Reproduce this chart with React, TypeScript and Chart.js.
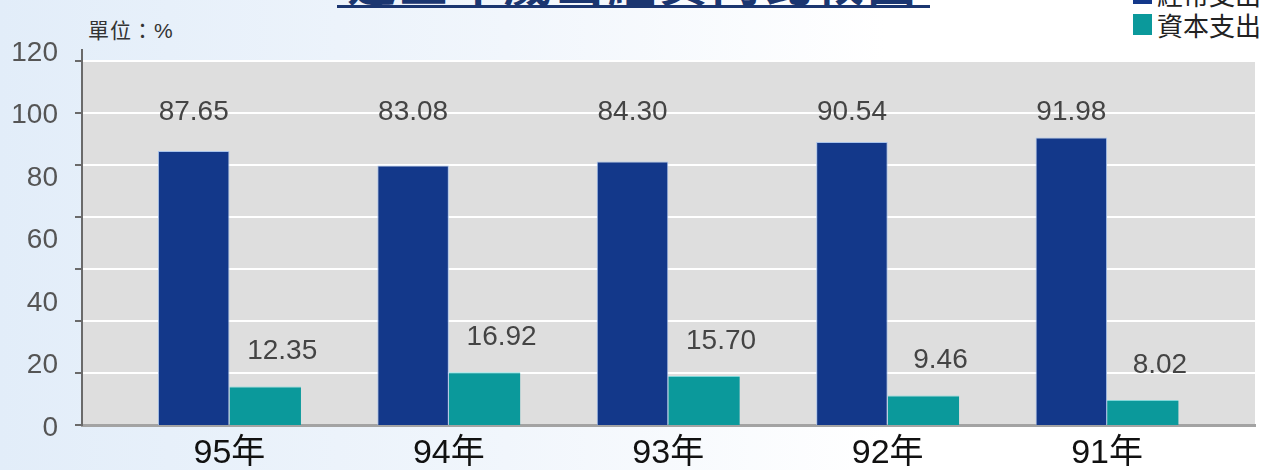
import React, { useEffect, useRef } from "react";
import { Chart, registerables } from "chart.js";

Chart.register(...registerables);

const categories = ["95年", "94年", "93年", "92年", "91年"];
const recurrentValues = [87.65, 83.08, 84.3, 90.54, 91.98];
const capitalValues = [12.35, 16.92, 15.7, 9.46, 8.02];
const seriesNames = ["經常支出", "資本支出"];
const seriesColors = ["#13388a", "#0b999b"];
const yTickValues = [0, 20, 40, 60, 80, 100, 120];
const gridBands = 7;
const titleText = "近五年歲出經資門比較圖";
const unitText = "單位：%";

const FONT = '"Liberation Sans", Arial, "Noto Sans CJK TC", sans-serif';

const plotBackground = {
  id: "plotBackground",
  beforeDraw(chart: any) {
    const { ctx, chartArea } = chart;
    const g = chart.scales.yGrid;
    const top = g.getPixelForValue(gridBands);
    ctx.save();
    ctx.fillStyle = "#dedede";
    ctx.fillRect(chartArea.left, top, chartArea.right - chartArea.left, chartArea.bottom - top);
    ctx.restore();
  },
};

const valueLabels = {
  id: "valueLabels",
  afterDatasetsDraw(chart: any) {
    const { ctx } = chart;
    const y = chart.scales.y;
    ctx.save();
    ctx.font = `28px ${FONT}`;
    ctx.fillStyle = "#444";
    ctx.textAlign = "center";
    ctx.textBaseline = "middle";
    const m0 = chart.getDatasetMeta(0);
    const m1 = chart.getDatasetMeta(1);
    m0.data.forEach((bar: any, i: number) => {
      ctx.fillText(recurrentValues[i].toFixed(2), bar.x, y.getPixelForValue(100));
    });
    m1.data.forEach((bar: any, i: number) => {
      ctx.fillText(capitalValues[i].toFixed(2), bar.x + 17, bar.y - 35);
    });
    ctx.restore();
  },
};

export default function App() {
  const canvasRef = useRef<HTMLCanvasElement | null>(null);

  useEffect(() => {
    if (!canvasRef.current) return;
    const chart = new Chart(canvasRef.current, {
      type: "bar",
      data: {
        datasets: [
          {
            label: seriesNames[0],
            data: recurrentValues.map((v, i) => ({ x: i, y: v })),
            backgroundColor: seriesColors[0],
            borderColor: "#a9c3ea",
            borderWidth: 1,
            borderSkipped: "bottom",
          },
          {
            label: seriesNames[1],
            data: capitalValues.map((v, i) => ({ x: i, y: v })),
            backgroundColor: seriesColors[1],
            borderColor: "#7fd6d8",
            borderWidth: { top: 1, left: 0, right: 0, bottom: 0 },
            borderSkipped: "bottom",
          },
        ],
      } as any,
      options: {
        animation: false,
        responsive: true,
        maintainAspectRatio: false,
        events: [],
        categoryPercentage: 0.652,
        barPercentage: 1,
        layout: { padding: { top: 50, right: 9, bottom: 0, left: 0 } },
        plugins: { legend: { display: false }, tooltip: { enabled: false } },
        scales: {
          x: {
            type: "linear",
            offset: false,
            min: -0.672,
            max: 4.674,
            afterBuildTicks: (s: any) => {
              s.ticks = categories.map((_, i) => ({ value: i }));
            },
            ticks: {
              callback: (v: any) => categories[v] ?? "",
              font: { size: 34, family: FONT },
              color: "#111",
              padding: 8,
              autoSkip: false,
              maxRotation: 0,
            },
            grid: { display: false, drawTicks: false, offset: false },
            border: { display: true, color: "#a3a3a3", width: 3 },
            afterFit: (s: any) => {
              s.height = 45;
            },
          },
          y: {
            type: "linear",
            position: "left",
            weight: 1,
            min: 0,
            max: 120,
            afterBuildTicks: (s: any) => {
              s.ticks = yTickValues.map((v) => ({ value: v }));
            },
            ticks: { font: { size: 28, family: FONT }, color: "#555", padding: 16, labelOffset: 3 },
            grid: { display: false },
            border: { display: false },
            afterFit: (s: any) => {
              s.width = 82;
            },
          },
          yGrid: {
            type: "linear",
            position: "left",
            weight: 0,
            min: 0,
            max: 7.21,
            afterBuildTicks: (s: any) => {
              s.ticks = Array.from({ length: gridBands + 1 }, (_, i) => ({ value: i }));
            },
            ticks: { display: false },
            grid: { color: "#ffffff", lineWidth: 2, tickColor: "#6a6a6a", tickLength: 7, drawTicks: true },
            border: { display: true, color: "#6a6a6a", width: 2 },
            afterFit: (s: any) => {
              s.width = 0;
            },
          },
        } as any,
      },
      plugins: [plotBackground, valueLabels],
    });
    return () => chart.destroy();
  }, []);

  return (
    <div
      style={{
        position: "absolute",
        left: 0,
        top: 0,
        width: 1264,
        height: 470,
        overflow: "hidden",
        background: "linear-gradient(90deg, #e2edf9 0%, #f1f6fc 40%, #ffffff 70%)",
      }}
    >
      <div
        style={{
          position: "absolute",
          left: 337,
          top: -45,
          width: 593,
          height: 50,
          lineHeight: "50px",
          textAlign: "center",
          fontSize: 48,
          letterSpacing: 4,
          color: "#1b3670",
          fontFamily: '"Noto Sans CJK TC", sans-serif',
          fontWeight: 700,
          borderBottom: "3px solid #1b3670",
          whiteSpace: "nowrap",
        }}
      >
        {titleText}
      </div>
      <div
        style={{
          position: "absolute",
          left: 88,
          top: 14,
          fontSize: 21,
          letterSpacing: 1,
          color: "#333",
          fontFamily: '"Liberation Sans", "Noto Sans CJK TC", sans-serif',
          whiteSpace: "nowrap",
        }}
      >
        {unitText}
      </div>
      {seriesNames.map((name, i) => (
        <div
          key={name}
          style={{
            position: "absolute",
            left: 1133,
            top: -17 + i * 31,
            height: 21,
            display: "flex",
            alignItems: "center",
            gap: 5,
            whiteSpace: "nowrap",
          }}
        >
          <div style={{ width: 19, height: 21, background: seriesColors[i] }} />
          <span
            style={{
              fontSize: 26,
              lineHeight: "21px",
              color: "#222",
              fontFamily: '"Noto Sans CJK TC", sans-serif',
            }}
          >
            {name}
          </span>
        </div>
      ))}
      <div style={{ position: "absolute", left: 0, top: 0, width: 1264, height: 470 }}>
        <canvas ref={canvasRef} />
      </div>
    </div>
  );
}
